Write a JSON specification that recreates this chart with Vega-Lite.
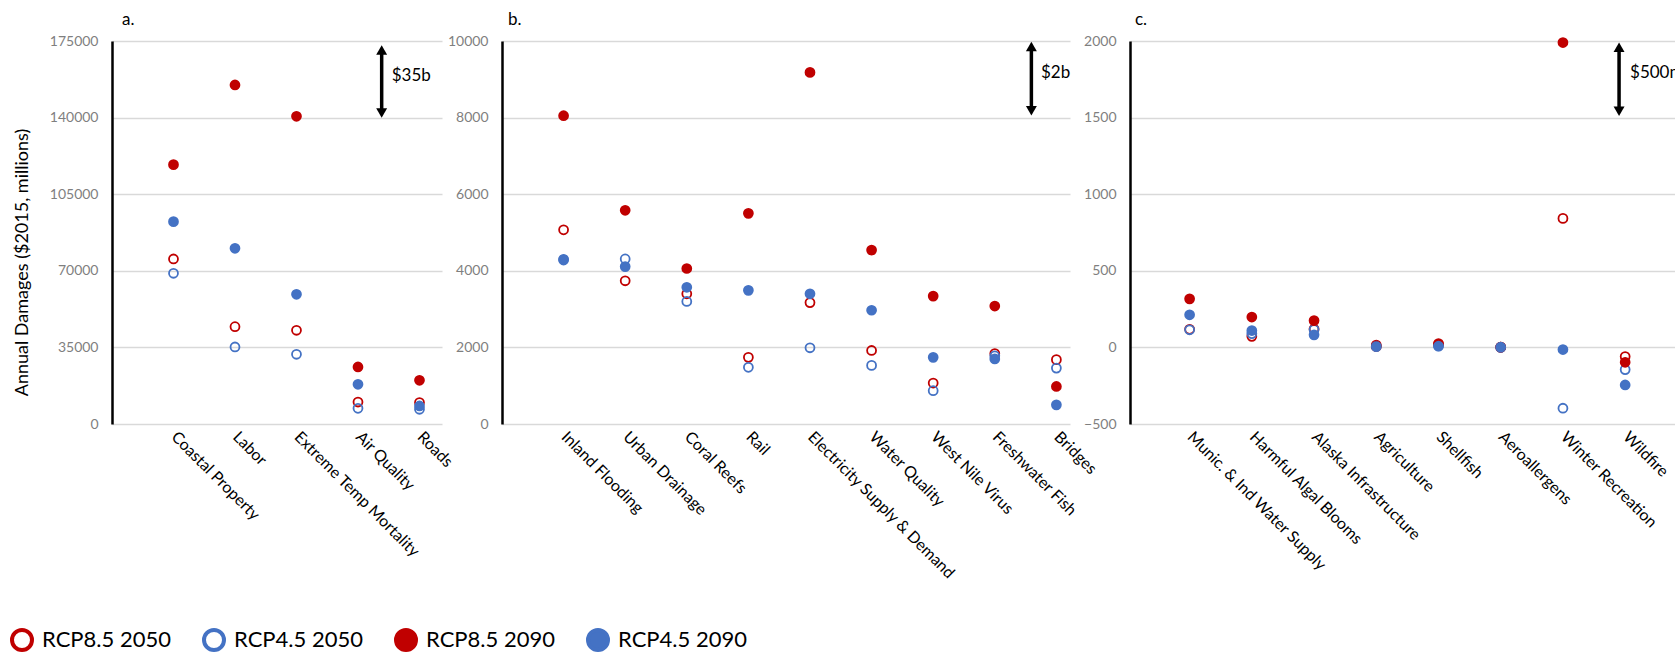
{
  "$schema": "https://vega.github.io/schema/vega-lite/v6.json",
  "padding": {"left": 10, "top": 10, "right": 0, "bottom": 0},
  "bounds": "flush",
  "spacing": 60,
  "config": {
    "font": "Lato",
    "view": {"stroke": null},
    "title": {"anchor": "start", "fontSize": 17, "fontWeight": "normal", "color": "black", "baseline": "alphabetic", "offset": 5.3, "frame": "group"}
  },
  "datasets": {
    "a": [
      {"cat": "Coastal Property", "series": "RCP8.5 2050", "value": 75400},
      {"cat": "Labor", "series": "RCP8.5 2050", "value": 44470},
      {"cat": "Extreme Temp Mortality", "series": "RCP8.5 2050", "value": 42820},
      {"cat": "Air Quality", "series": "RCP8.5 2050", "value": 10050},
      {"cat": "Roads", "series": "RCP8.5 2050", "value": 9800},
      {"cat": "Coastal Property", "series": "RCP4.5 2050", "value": 68870},
      {"cat": "Labor", "series": "RCP4.5 2050", "value": 35190},
      {"cat": "Extreme Temp Mortality", "series": "RCP4.5 2050", "value": 31850},
      {"cat": "Air Quality", "series": "RCP4.5 2050", "value": 7170},
      {"cat": "Roads", "series": "RCP4.5 2050", "value": 6720},
      {"cat": "Coastal Property", "series": "RCP8.5 2090", "value": 118500},
      {"cat": "Labor", "series": "RCP8.5 2090", "value": 154900},
      {"cat": "Extreme Temp Mortality", "series": "RCP8.5 2090", "value": 140600},
      {"cat": "Air Quality", "series": "RCP8.5 2090", "value": 26050},
      {"cat": "Roads", "series": "RCP8.5 2090", "value": 19970},
      {"cat": "Coastal Property", "series": "RCP4.5 2090", "value": 92450},
      {"cat": "Labor", "series": "RCP4.5 2090", "value": 80290},
      {"cat": "Extreme Temp Mortality", "series": "RCP4.5 2090", "value": 59270},
      {"cat": "Air Quality", "series": "RCP4.5 2090", "value": 18140},
      {"cat": "Roads", "series": "RCP4.5 2090", "value": 8230}
    ],
    "b": [
      {"cat": "Inland Flooding", "series": "RCP8.5 2050", "value": 5070},
      {"cat": "Urban Drainage", "series": "RCP8.5 2050", "value": 3740},
      {"cat": "Coral Reefs", "series": "RCP8.5 2050", "value": 3400},
      {"cat": "Rail", "series": "RCP8.5 2050", "value": 1740},
      {"cat": "Electricity Supply & Demand", "series": "RCP8.5 2050", "value": 3170},
      {"cat": "Water Quality", "series": "RCP8.5 2050", "value": 1920},
      {"cat": "West Nile Virus", "series": "RCP8.5 2050", "value": 1070},
      {"cat": "Freshwater Fish", "series": "RCP8.5 2050", "value": 1840},
      {"cat": "Bridges", "series": "RCP8.5 2050", "value": 1680},
      {"cat": "Inland Flooding", "series": "RCP4.5 2050", "value": 4280},
      {"cat": "Urban Drainage", "series": "RCP4.5 2050", "value": 4310},
      {"cat": "Coral Reefs", "series": "RCP4.5 2050", "value": 3200},
      {"cat": "Rail", "series": "RCP4.5 2050", "value": 1480},
      {"cat": "Electricity Supply & Demand", "series": "RCP4.5 2050", "value": 1990},
      {"cat": "Water Quality", "series": "RCP4.5 2050", "value": 1530},
      {"cat": "West Nile Virus", "series": "RCP4.5 2050", "value": 870},
      {"cat": "Freshwater Fish", "series": "RCP4.5 2050", "value": 1780},
      {"cat": "Bridges", "series": "RCP4.5 2050", "value": 1460},
      {"cat": "Inland Flooding", "series": "RCP8.5 2090", "value": 8050},
      {"cat": "Urban Drainage", "series": "RCP8.5 2090", "value": 5580},
      {"cat": "Coral Reefs", "series": "RCP8.5 2090", "value": 4060},
      {"cat": "Rail", "series": "RCP8.5 2090", "value": 5500},
      {"cat": "Electricity Supply & Demand", "series": "RCP8.5 2090", "value": 9180},
      {"cat": "Water Quality", "series": "RCP8.5 2090", "value": 4540},
      {"cat": "West Nile Virus", "series": "RCP8.5 2090", "value": 3340},
      {"cat": "Freshwater Fish", "series": "RCP8.5 2090", "value": 3080},
      {"cat": "Bridges", "series": "RCP8.5 2090", "value": 980},
      {"cat": "Inland Flooding", "series": "RCP4.5 2090", "value": 4300},
      {"cat": "Urban Drainage", "series": "RCP4.5 2090", "value": 4110},
      {"cat": "Coral Reefs", "series": "RCP4.5 2090", "value": 3570},
      {"cat": "Rail", "series": "RCP4.5 2090", "value": 3490},
      {"cat": "Electricity Supply & Demand", "series": "RCP4.5 2090", "value": 3400},
      {"cat": "Water Quality", "series": "RCP4.5 2090", "value": 2970},
      {"cat": "West Nile Virus", "series": "RCP4.5 2090", "value": 1740},
      {"cat": "Freshwater Fish", "series": "RCP4.5 2090", "value": 1700},
      {"cat": "Bridges", "series": "RCP4.5 2090", "value": 500}
    ],
    "c": [
      {"cat": "Munic. & Ind Water Supply", "series": "RCP8.5 2050", "value": 118},
      {"cat": "Harmful Algal Blooms", "series": "RCP8.5 2050", "value": 72},
      {"cat": "Alaska Infrastructure", "series": "RCP8.5 2050", "value": 120},
      {"cat": "Agriculture", "series": "RCP8.5 2050", "value": 15},
      {"cat": "Shellfish", "series": "RCP8.5 2050", "value": 20},
      {"cat": "Aeroallergens", "series": "RCP8.5 2050", "value": 2},
      {"cat": "Winter Recreation", "series": "RCP8.5 2050", "value": 842},
      {"cat": "Wildfire", "series": "RCP8.5 2050", "value": -60},
      {"cat": "Munic. & Ind Water Supply", "series": "RCP4.5 2050", "value": 115},
      {"cat": "Harmful Algal Blooms", "series": "RCP4.5 2050", "value": 90},
      {"cat": "Alaska Infrastructure", "series": "RCP4.5 2050", "value": 116},
      {"cat": "Agriculture", "series": "RCP4.5 2050", "value": 8},
      {"cat": "Shellfish", "series": "RCP4.5 2050", "value": 10},
      {"cat": "Aeroallergens", "series": "RCP4.5 2050", "value": 0},
      {"cat": "Winter Recreation", "series": "RCP4.5 2050", "value": -397},
      {"cat": "Wildfire", "series": "RCP4.5 2050", "value": -145},
      {"cat": "Munic. & Ind Water Supply", "series": "RCP8.5 2090", "value": 317},
      {"cat": "Harmful Algal Blooms", "series": "RCP8.5 2090", "value": 198},
      {"cat": "Alaska Infrastructure", "series": "RCP8.5 2090", "value": 175},
      {"cat": "Agriculture", "series": "RCP8.5 2090", "value": 6},
      {"cat": "Shellfish", "series": "RCP8.5 2090", "value": 25},
      {"cat": "Aeroallergens", "series": "RCP8.5 2090", "value": 1},
      {"cat": "Winter Recreation", "series": "RCP8.5 2090", "value": 1990},
      {"cat": "Wildfire", "series": "RCP8.5 2090", "value": -97},
      {"cat": "Munic. & Ind Water Supply", "series": "RCP4.5 2090", "value": 213},
      {"cat": "Harmful Algal Blooms", "series": "RCP4.5 2090", "value": 110},
      {"cat": "Alaska Infrastructure", "series": "RCP4.5 2090", "value": 82},
      {"cat": "Agriculture", "series": "RCP4.5 2090", "value": 5},
      {"cat": "Shellfish", "series": "RCP4.5 2090", "value": 8},
      {"cat": "Aeroallergens", "series": "RCP4.5 2090", "value": 1},
      {"cat": "Winter Recreation", "series": "RCP4.5 2090", "value": -14},
      {"cat": "Wildfire", "series": "RCP4.5 2090", "value": -245}
    ],
    "arrA": [{"p": 3.385, "top": 170900, "bot": 142100, "lp": 3.548, "ly": 159000, "label": "$35b"}],
    "arrB": [{"p": 7.594, "top": 9855, "bot": 8176, "lp": 7.75, "ly": 9154, "label": "$2b"}],
    "arrC": [{"p": 6.92, "top": 1959, "bot": 1542, "lp": 7.097, "ly": 1789, "label": "$500m"}]
  },
  "hconcat": [
    {
      "width": 330,
      "height": 383,
      "title": {"text": "a.", "dx": 10},
      "layer": [
        {
          "data": {"name": "a"},
          "mark": {"type": "point", "shape": "circle", "size": 80, "strokeWidth": 1.8, "filled": true, "opacity": 1},
          "encoding": {
            "x": {"field": "cat", "type": "nominal", "sort": null, "scale": {"type": "point", "padding": 0.683, "align": 0.732},
              "axis": {"title": null, "labelAngle": 45, "labelAlign": "left", "labelBaseline": "middle", "labelPadding": 10, "labelFontSize": 16, "labelColor": "black", "ticks": false, "domain": false, "grid": false, "labelOverlap": false, "labelLimit": 0}},
            "y": {"field": "value", "type": "quantitative", "scale": {"domain": [0, 175000], "nice": false, "zero": false},
              "axis": {"values": [0, 35000, 70000, 105000, 140000, 175000], "format": "d", "title": "Annual Damages ($2015, millions)", "titleFontSize": 18, "titleFontWeight": "normal", "titleColor": "black", "titleAngle": 270, "titleX": -81, "titleY": 221, "titleAlign": "center", "titleBaseline": "bottom", "labelColor": "#7F7F7F", "labelFontSize": 14, "labelPadding": 14, "ticks": false, "domainColor": "black", "domainWidth": 2.5, "gridColor": "#D9D9D9", "gridWidth": 1.5}},
            "stroke": {"field": "series", "type": "nominal", "scale": {"domain": ["RCP8.5 2050", "RCP4.5 2050", "RCP8.5 2090", "RCP4.5 2090"], "range": ["#C00000", "#4472C4", "#C00000", "#4472C4"]},
              "legend": {"title": null, "orient": "none", "legendX": -102, "legendY": 587, "direction": "horizontal", "columns": 4, "symbolType": "circle", "symbolSize": 400, "symbolStrokeWidth": 4, "labelFontSize": 22, "labelColor": "black", "labelOffset": 8, "columnPadding": 25, "padding": 0, "labelLimit": 0}},
            "fill": {"field": "series", "type": "nominal", "scale": {"domain": ["RCP8.5 2050", "RCP4.5 2050", "RCP8.5 2090", "RCP4.5 2090"], "range": ["transparent", "transparent", "#C00000", "#4472C4"]},
              "legend": {"title": null, "orient": "none", "legendX": -102, "legendY": 587, "direction": "horizontal", "columns": 4, "symbolType": "circle", "symbolSize": 400, "symbolStrokeWidth": 4, "labelFontSize": 22, "labelColor": "black", "labelOffset": 8, "columnPadding": 25, "padding": 0, "labelLimit": 0}}
          }
        },
        {
          "data": {"name": "arrA"},
          "encoding": {"x": {"field": "p", "type": "quantitative", "scale": {"domain": [-1, 4.366], "nice": false, "zero": false}, "axis": null}},
          "layer": [
            {"mark": {"type": "rule", "color": "black", "strokeWidth": 3.5}, "encoding": {"y": {"field": "top", "type": "quantitative", "scale": {"domain": [0, 175000], "nice": false, "zero": false}, "axis": null}, "y2": {"field": "bot"}}},
            {"mark": {"type": "point", "shape": "triangle-up", "size": 120, "filled": true, "color": "black", "opacity": 1}, "encoding": {"y": {"field": "top", "type": "quantitative", "scale": {"domain": [0, 175000], "nice": false, "zero": false}, "axis": null}}},
            {"mark": {"type": "point", "shape": "triangle-down", "size": 120, "filled": true, "color": "black", "opacity": 1}, "encoding": {"y": {"field": "bot", "type": "quantitative", "scale": {"domain": [0, 175000], "nice": false, "zero": false}, "axis": null}}},
            {"mark": {"type": "text", "align": "left", "baseline": "middle", "fontSize": 17, "color": "black"}, "encoding": {"x": {"field": "lp", "type": "quantitative", "scale": {"domain": [-1, 4.366], "nice": false, "zero": false}, "axis": null}, "y": {"field": "ly", "type": "quantitative", "scale": {"domain": [0, 175000], "nice": false, "zero": false}, "axis": null}, "text": {"field": "label"}}}
          ]
        }
      ],
      "resolve": {"scale": {"x": "independent"}, "axis": {"y": "independent"}}
    },
    {
      "width": 568,
      "height": 383,
      "title": {"text": "b.", "dx": 6},
      "layer": [
        {
          "data": {"name": "b"},
          "mark": {"type": "point", "shape": "circle", "size": 80, "strokeWidth": 1.8, "filled": true, "opacity": 1},
          "encoding": {
            "x": {"field": "cat", "type": "nominal", "sort": null, "scale": {"type": "point", "padding": 0.6104, "align": 0.819},
              "axis": {"title": null, "labelAngle": 45, "labelAlign": "left", "labelBaseline": "middle", "labelPadding": 10, "labelFontSize": 16, "labelColor": "black", "ticks": false, "domain": false, "grid": false, "labelOverlap": false, "labelLimit": 0}},
            "y": {"field": "value", "type": "quantitative", "scale": {"domain": [0, 10000], "nice": false, "zero": false},
              "axis": {"values": [0, 2000, 4000, 6000, 8000, 10000], "format": "d", "title": null, "labelColor": "#7F7F7F", "labelFontSize": 14, "labelPadding": 14, "ticks": false, "domainColor": "black", "domainWidth": 2.5, "gridColor": "#D9D9D9", "gridWidth": 1.5}},
            "stroke": {"field": "series", "type": "nominal", "scale": {"domain": ["RCP8.5 2050", "RCP4.5 2050", "RCP8.5 2090", "RCP4.5 2090"], "range": ["#C00000", "#4472C4", "#C00000", "#4472C4"]}, "legend": null},
            "fill": {"field": "series", "type": "nominal", "scale": {"domain": ["RCP8.5 2050", "RCP4.5 2050", "RCP8.5 2090", "RCP4.5 2090"], "range": ["transparent", "transparent", "#C00000", "#4472C4"]}, "legend": null}
          }
        },
        {
          "data": {"name": "arrB"},
          "encoding": {"x": {"field": "p", "type": "quantitative", "scale": {"domain": [-1, 8.221], "nice": false, "zero": false}, "axis": null}},
          "layer": [
            {"mark": {"type": "rule", "color": "black", "strokeWidth": 3.5}, "encoding": {"y": {"field": "top", "type": "quantitative", "scale": {"domain": [0, 10000], "nice": false, "zero": false}, "axis": null}, "y2": {"field": "bot"}}},
            {"mark": {"type": "point", "shape": "triangle-up", "size": 120, "filled": true, "color": "black", "opacity": 1}, "encoding": {"y": {"field": "top", "type": "quantitative", "scale": {"domain": [0, 10000], "nice": false, "zero": false}, "axis": null}}},
            {"mark": {"type": "point", "shape": "triangle-down", "size": 120, "filled": true, "color": "black", "opacity": 1}, "encoding": {"y": {"field": "bot", "type": "quantitative", "scale": {"domain": [0, 10000], "nice": false, "zero": false}, "axis": null}}},
            {"mark": {"type": "text", "align": "left", "baseline": "middle", "fontSize": 17, "color": "black"}, "encoding": {"x": {"field": "lp", "type": "quantitative", "scale": {"domain": [-1, 8.221], "nice": false, "zero": false}, "axis": null}, "y": {"field": "ly", "type": "quantitative", "scale": {"domain": [0, 10000], "nice": false, "zero": false}, "axis": null}, "text": {"field": "label"}}}
          ]
        }
      ],
      "resolve": {"scale": {"x": "independent"}, "axis": {"y": "independent"}}
    },
    {
      "width": 560,
      "height": 383,
      "title": {"text": "c.", "dx": 5},
      "layer": [
        {
          "data": {"name": "c"},
          "mark": {"type": "point", "shape": "circle", "size": 80, "strokeWidth": 1.8, "filled": true, "opacity": 1},
          "encoding": {
            "x": {"field": "cat", "type": "nominal", "sort": null, "scale": {"type": "point", "padding": 1.0234, "align": 0.479},
              "axis": {"title": null, "labelAngle": 45, "labelAlign": "left", "labelBaseline": "middle", "labelPadding": 10, "labelFontSize": 16, "labelColor": "black", "ticks": false, "domain": false, "grid": false, "labelOverlap": false, "labelLimit": 0}},
            "y": {"field": "value", "type": "quantitative", "scale": {"domain": [-500, 2000], "nice": false, "zero": false},
              "axis": {"values": [-500, 0, 500, 1000, 1500, 2000], "format": "d", "title": null, "labelColor": "#7F7F7F", "labelFontSize": 14, "labelPadding": 14, "ticks": false, "domainColor": "black", "domainWidth": 2.5, "gridColor": "#D9D9D9", "gridWidth": 1.5}},
            "stroke": {"field": "series", "type": "nominal", "scale": {"domain": ["RCP8.5 2050", "RCP4.5 2050", "RCP8.5 2090", "RCP4.5 2090"], "range": ["#C00000", "#4472C4", "#C00000", "#4472C4"]}, "legend": null},
            "fill": {"field": "series", "type": "nominal", "scale": {"domain": ["RCP8.5 2050", "RCP4.5 2050", "RCP8.5 2090", "RCP4.5 2090"], "range": ["transparent", "transparent", "#C00000", "#4472C4"]}, "legend": null}
          }
        },
        {
          "data": {"name": "arrC"},
          "encoding": {"x": {"field": "p", "type": "quantitative", "scale": {"domain": [-0.981, 8.066], "nice": false, "zero": false}, "axis": null}},
          "layer": [
            {"mark": {"type": "rule", "color": "black", "strokeWidth": 3.5}, "encoding": {"y": {"field": "top", "type": "quantitative", "scale": {"domain": [-500, 2000], "nice": false, "zero": false}, "axis": null}, "y2": {"field": "bot"}}},
            {"mark": {"type": "point", "shape": "triangle-up", "size": 120, "filled": true, "color": "black", "opacity": 1}, "encoding": {"y": {"field": "top", "type": "quantitative", "scale": {"domain": [-500, 2000], "nice": false, "zero": false}, "axis": null}}},
            {"mark": {"type": "point", "shape": "triangle-down", "size": 120, "filled": true, "color": "black", "opacity": 1}, "encoding": {"y": {"field": "bot", "type": "quantitative", "scale": {"domain": [-500, 2000], "nice": false, "zero": false}, "axis": null}}},
            {"mark": {"type": "text", "align": "left", "baseline": "middle", "fontSize": 17, "color": "black"}, "encoding": {"x": {"field": "lp", "type": "quantitative", "scale": {"domain": [-0.981, 8.066], "nice": false, "zero": false}, "axis": null}, "y": {"field": "ly", "type": "quantitative", "scale": {"domain": [-500, 2000], "nice": false, "zero": false}, "axis": null}, "text": {"field": "label"}}}
          ]
        }
      ],
      "resolve": {"scale": {"x": "independent"}, "axis": {"y": "independent"}}
    }
  ]
}
